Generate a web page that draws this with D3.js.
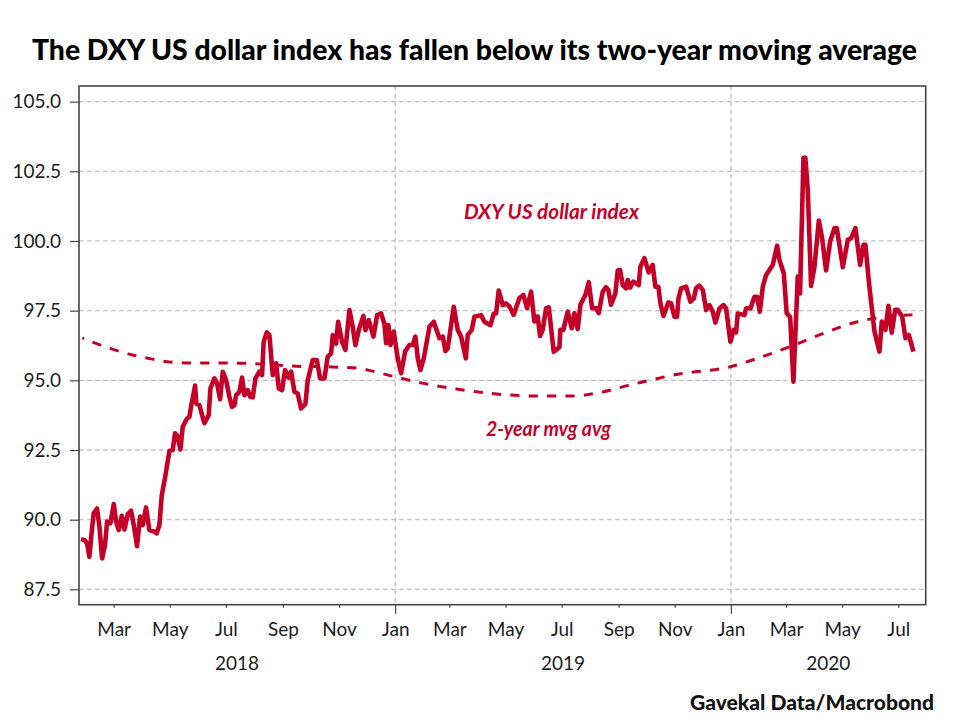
<!DOCTYPE html>
<html>
<head>
<meta charset="utf-8">
<script src="https://cdnjs.cloudflare.com/ajax/libs/d3/7.8.5/d3.min.js"></script>
<style>
  html, body { margin: 0; padding: 0; background: #fff; }
  svg { display: block; }
  text { font-family: Lato, "Open Sans", sans-serif; fill: #1c1c1c; }
</style>
</head>
<body>
<div id="chart"></div>
<script>
// values, days counted from 1 Jan 2018
var dxyDays = [23.5,27.2,30.1,32.6,35.1,37.3,40.9,43.5,46.4,49.6,51.8,55.4,59.1,61.6,64.5,67.8,70.7,74.3,77.9,80.8,84.4,87.7,90.6,94.2,97.8,103.3,105.8,108.7,111.3,114.9,119.6,123.2,125.7,128.6,131.5,134.1,138.8,141.3,143.1,147.5,148.9,152.2,157.6,162.3,164.2,168.5,171.4,174.7,177.6,
  181.2,184.8,187.7,190.3,192.1,195.7,198.6,201.1,204.8,207.3,210.2,213.1,217.4,220.3,222.1,225.4,228.3,231.9,235.6,238.5,242.1,245.3,249,251.9,255.5,259.1,262.7,267.4,270,275.4,279.8,283.4,288.1,291.7,295.4,297.2,300.8,303,307.3,310.9,315.3,318.9,321.8,325.4,330.5,332.7,336.3,
  341.4,345.4,349.7,353.3,355.2,357.7,359.9,363.5,367.8,371.5,375.8,380.5,384.1,387,389.6,392.5,396.1,402.3,407,413.1,416.8,419.7,422.2,428.7,433,436.7,441.8,443.9,448.3,451.2,458.4,462,468.6,472.2,474.7,477.6,482,485.6,489.2,493.9,
  500.1,504.4,508.4,512.8,516.4,520,522.5,525.4,529.1,532,537.4,543.6,544.6,547.9,552.6,557,559.9,563.5,566.4,571.8,575.5,579.1,583.4,586.3,590.7,594.3,596.8,599.7,604.4,607,609.5,612.4,616,617.9,620.4,624,629.8,631.6,636,640.7,645,647.9,651.2,
  653.4,656.7,662.1,665,668.6,671.5,673,675.9,681.3,686,689.7,692.2,695.8,699.5,703.1,706.7,710.3,713.2,717.6,721.9,724.8,729.5,733.1,735.7,737.5,744.7,746.6,751.3,755.6,758.5,761.4,764.7,768.3,771.9,775.5,780.3,782.8,785.7,787.5,790.7,794.4,798,802.7,805.2,808.9,811,
  813.6,817.2,820.9,825.6,829.2,833.5,837.9,842.6,845.1,851.7,857.1,860.7,865.4,870.5,874.1,876.3,878.8,880.6,886.1,891.5,894.1,898,901.3,904.9,908.6,911.4,916.2,919.8,923.4,928.5];
var dxyValues = [89.30,89.27,89.15,88.67,89.57,90.23,90.40,89.75,88.61,89.09,89.93,89.87,90.56,89.93,89.63,90.14,89.65,90.20,90.32,89.81,89.05,90.11,89.81,90.44,89.63,89.57,89.51,89.81,90.88,91.52,92.47,92.50,93.10,92.98,92.52,93.34,93.63,93.69,94.05,94.81,94.17,94.11,93.46,93.75,94.71,95.07,94.89,94.32,95.31,
  95.01,94.41,94.05,94.11,94.47,94.59,95.10,94.47,94.65,94.41,94.39,95.07,95.31,95.19,96.38,96.72,96.62,95.19,95.61,94.71,94.65,95.37,95.10,95.31,94.59,94.53,93.99,94.15,95.01,95.73,95.73,95.07,95.07,95.85,95.97,96.62,96.32,97.10,96.38,96.09,97.52,96.92,96.26,96.80,97.31,96.80,97.16,
  96.57,97.34,97.40,97.04,96.33,96.98,96.27,96.75,95.79,95.25,96.03,96.27,96.27,96.57,95.79,95.37,95.79,96.92,97.10,96.51,96.57,96.05,96.15,97.64,96.81,96.57,95.79,96.63,96.81,97.28,97.34,97.10,96.98,97.40,97.40,98.22,97.70,97.76,97.65,97.35,
  97.95,98.06,97.59,98.18,97.11,97.29,96.59,96.81,97.59,97.62,96.03,96.19,96.81,96.81,97.47,96.87,97.41,96.84,97.71,98.06,98.52,97.59,97.59,97.41,98.18,98.34,98.24,97.71,98.12,98.94,98.96,98.42,98.30,98.60,98.33,98.54,98.42,99.08,99.38,98.87,99.14,98.36,98.36,
  97.76,97.31,97.80,97.76,97.28,97.28,97.94,98.30,98.36,97.82,97.94,98.30,98.40,98.24,97.52,97.70,97.46,97.07,97.58,97.70,97.58,96.39,96.81,96.72,97.40,97.34,97.58,97.58,98.00,98.00,97.46,98.36,98.78,98.96,99.14,99.83,99.32,99.02,98.84,97.40,97.28,94.95,98.72,98.12,102.98,102.98,
  101.83,98.39,99.08,100.73,100.10,98.94,99.98,100.46,100.46,99.06,100.04,100.10,100.46,99.14,99.86,99.86,98.96,98.36,96.75,96.03,97.11,96.81,97.67,96.71,97.53,97.53,97.29,96.51,96.63,96.03];

var mvgDays = [25,35.9,57.6,79.4,101.1,119.6,144.6,181.6,217.4,253.3,296.8,322.9,340.3,362,394.7,431.6,475.1,514.2,557.7,590.3,616.4,633.8,674,728.4,753.4,793.6,826.3,866.5,894.8,927.4];
var mvgValues = [96.52,96.37,96.12,95.91,95.76,95.66,95.62,95.62,95.59,95.51,95.48,95.44,95.33,95.15,94.90,94.69,94.51,94.44,94.44,94.58,94.80,94.94,95.23,95.48,95.73,96.20,96.63,97.09,97.27,97.35];

var yTicks = [87.5,90,92.5,95,97.5,100,102.5,105];
var years = [2018,2019,2020];
var titleText = 'The DXY US dollar index has fallen below its two-year moving average';
var sourceText = 'Gavekal Data/Macrobond';

var width = 960, height = 728;
var margin = { top: 86, right: 34.3, bottom: 123.3, left: 79 };
var RED = '#c40029', AXIS = '#444', GRID = '#bdbdbd';

var day0 = +new Date(2018, 0, 1);
var toDate = function(d) { return new Date(day0 + d * 864e5); };

var x = d3.scaleTime()
  .domain([toDate(21.3), toDate(941.8)])
  .range([margin.left, width - margin.right]);
var y = d3.scaleLinear()
  .domain([86.95, 105.56])
  .range([height - margin.bottom, margin.top]);

var svg = d3.select('#chart').append('svg')
  .attr('width', width)
  .attr('height', height);

var monthTicks = d3.timeMonth.range(new Date(2018, 2, 1), new Date(2020, 7, 1), 2);
var janTicks = monthTicks.filter(function(d) { return d.getMonth() === 0; });

// grid
svg.append('g').selectAll('line').data(yTicks).join('line')
  .attr('x1', margin.left).attr('x2', width - margin.right)
  .attr('y1', function(d) { return y(d); }).attr('y2', function(d) { return y(d); })
  .attr('stroke', GRID).attr('stroke-width', 1.3).attr('stroke-dasharray', '4.5 3.5');
svg.append('g').selectAll('line').data(janTicks).join('line')
  .attr('x1', function(d) { return x(d); }).attr('x2', function(d) { return x(d); })
  .attr('y1', margin.top).attr('y2', height - margin.bottom)
  .attr('stroke', GRID).attr('stroke-width', 1.3).attr('stroke-dasharray', '4.5 3.5');

// lines
var dxyLine = d3.line()
  .x(function(d, i) { return x(toDate(dxyDays[i])); })
  .y(function(d) { return y(d); })
  .curve(d3.curveLinear);
var mvgLine = d3.line()
  .x(function(d, i) { return x(toDate(mvgDays[i])); })
  .y(function(d) { return y(d); })
  .curve(d3.curveMonotoneX);

svg.append('path').datum(mvgValues)
  .attr('d', mvgLine).attr('fill', 'none')
  .attr('stroke', RED).attr('stroke-width', 3)
  .attr('stroke-dasharray', '9.2 9.2').attr('stroke-dashoffset', 7.5);
svg.append('path').datum(dxyValues)
  .attr('d', dxyLine).attr('fill', 'none')
  .attr('stroke', RED).attr('stroke-width', 4.6)
  .attr('stroke-linejoin', 'round');

// frame
svg.append('rect')
  .attr('x', margin.left).attr('y', margin.top)
  .attr('width', width - margin.left - margin.right)
  .attr('height', height - margin.top - margin.bottom)
  .attr('fill', 'none').attr('stroke', AXIS).attr('stroke-width', 1.6);

// axes
var xAxis = d3.axisBottom(x)
  .tickValues(monthTicks)
  .tickFormat(d3.timeFormat('%b'))
  .tickSize(3)
  .tickPadding(15);
var gx = svg.append('g')
  .attr('transform', 'translate(0,' + (height - margin.bottom) + ')')
  .call(xAxis);
gx.select('.domain').remove();
gx.selectAll('.tick line')
  .attr('stroke', AXIS).attr('stroke-width', 1.2)
  .attr('y2', function(d) { return d.getMonth() === 0 ? 9 : 3; });
gx.selectAll('.tick text').attr('font-size', 19).attr('font-family', null);

var yAxis = d3.axisLeft(y)
  .tickValues(yTicks)
  .tickFormat(d3.format('.1f'))
  .tickSize(9)
  .tickPadding(9);
var gy = svg.append('g')
  .attr('transform', 'translate(' + margin.left + ',0)')
  .call(yAxis);
gy.select('.domain').remove();
gy.selectAll('.tick line').attr('stroke', AXIS).attr('stroke-width', 1.2);
gy.selectAll('.tick text').attr('font-size', 19).attr('font-family', null);

// year labels, centred on the part of the year that is visible
svg.append('g').selectAll('text').data(years).join('text')
  .attr('x', function(d) {
    var a = Math.max(x(new Date(d, 0, 1)), x.range()[0]);
    var b = Math.min(x(new Date(d + 1, 0, 1)), x.range()[1]);
    return (a + b) / 2;
  })
  .attr('y', 670)
  .attr('text-anchor', 'middle')
  .attr('font-size', 19)
  .text(function(d) { return d; });

// title, source, line labels
svg.append('text')
  .attr('x', 32).attr('y', 60)
  .attr('font-size', 29).attr('font-weight', 900)
  .attr('textLength', 885).attr('lengthAdjust', 'spacingAndGlyphs')
  .style('fill', '#000')
  .text(titleText);
svg.append('text')
  .attr('x', 690).attr('y', 710)
  .attr('font-size', 21).attr('font-weight', 900)
  .attr('textLength', 244).attr('lengthAdjust', 'spacingAndGlyphs')
  .style('fill', '#111')
  .text(sourceText);
svg.append('text')
  .attr('x', 464).attr('y', 219)
  .attr('font-size', 20).attr('font-style', 'italic').attr('font-weight', 700)
  .attr('textLength', 175).attr('lengthAdjust', 'spacingAndGlyphs')
  .style('fill', RED)
  .text('DXY US dollar index');
svg.append('text')
  .attr('x', 486).attr('y', 436)
  .attr('font-size', 20).attr('font-style', 'italic').attr('font-weight', 700)
  .attr('textLength', 125).attr('lengthAdjust', 'spacingAndGlyphs')
  .style('fill', RED)
  .text('2-year mvg avg');
</script>
</body>
</html>
